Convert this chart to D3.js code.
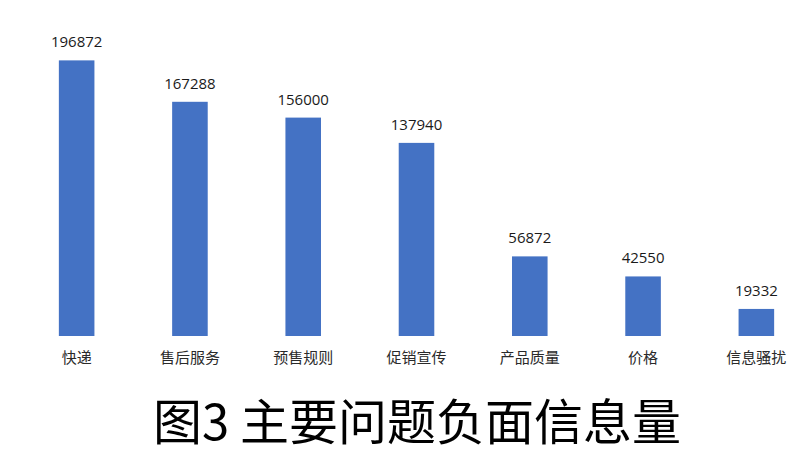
<!DOCTYPE html>
<html><head><meta charset="utf-8">
<script src="https://cdn.jsdelivr.net/npm/d3@7"></script>
<style>body{margin:0;background:#fff;}svg{display:block;}</style>
</head><body>
<svg id="c" width="800" height="453"></svg>
<script>
const categories = ["快递","售后服务","预售规则","促销宣传","产品质量","价格","信息骚扰"];
const values = [196872,167288,156000,137940,56872,42550,19332];
const title = "图3 主要问题负面信息量";

const svg = d3.select("#c");
const x = d3.scaleBand().domain(categories).range([20, 813]).paddingInner(0.686).paddingOuter(0.343);
const y = d3.scaleLinear().domain([0, 200000]).range([336, 56]);

svg.selectAll("rect.bar").data(values).enter().append("rect")
  .attr("class","bar")
  .attr("x",(d,i)=>x(categories[i]))
  .attr("y",d=>y(d))
  .attr("width",x.bandwidth())
  .attr("height",d=>y(0)-y(d))
  .attr("fill","#4472C4");

svg.selectAll("text.val").data(values).enter().append("text")
  .attr("class","val")
  .attr("x",(d,i)=>x(categories[i])+x.bandwidth()/2)
  .attr("y",d=>y(d)-13)
  .attr("text-anchor","middle")
  .attr("font-family","'Open Sans', 'Noto Sans', sans-serif")
  .attr("font-size",15)
  .attr("fill","#1a1a1a")
  .text(d=>d);

const xAxis = d3.axisBottom(x).tickSize(0).tickPadding(0);
const g = svg.append("g").attr("transform","translate(0,352)").call(xAxis);
g.select(".domain").remove();
g.selectAll("text")
  .attr("dy","0.71em")
  .attr("font-family","'Noto Sans CJK SC', sans-serif")
  .attr("font-size",15)
  .attr("fill","#2a2a2a");

svg.append("text")
  .attr("x",417).attr("y",440)
  .attr("text-anchor","middle")
  .attr("font-family","'Noto Sans CJK SC', sans-serif")
  .attr("font-size",49)
  .attr("fill","#000")
  .text(title);
</script>
</body></html>
